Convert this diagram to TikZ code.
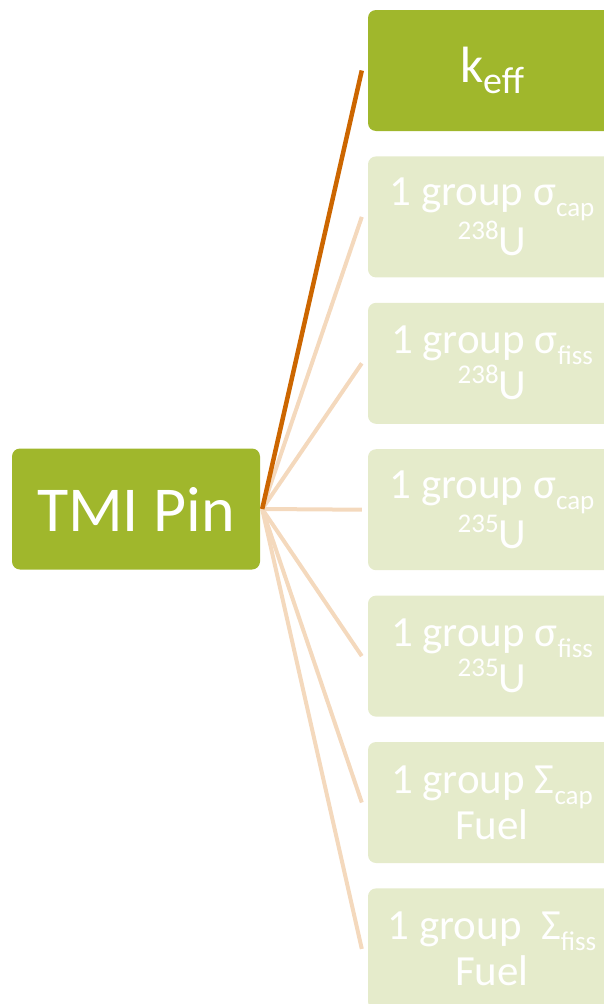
\documentclass[tikz,border=0pt]{standalone}
\usepackage{fontspec}
\setmainfont{Carlito}
\usetikzlibrary{positioning}
\definecolor{leafgreen}{HTML}{A0B72C}
\definecolor{palegreen}{HTML}{E5EBCB}
\definecolor{rust}{HTML}{CC6600}
\definecolor{peach}{HTML}{F4D9BD}
\newcommand\lo[2][27]{\raisebox{-11pt}{\fontsize{#1}{#1}\selectfont #2}}
\newcommand\hi[1]{\raisebox{16pt}{\fontsize{27}{27}\selectfont #1}}
\begin{document}
\begin{tikzpicture}[x=1pt,y=-1pt,line cap=butt,
	box/.style={rounded corners=8pt,minimum width=248pt,minimum height=121pt,
		inner sep=0pt,align=center,text=white},
	leaf/.style={box,fill=palegreen,font=\fontsize{43}{46}\selectfont},
	link/.style={peach,line width=4pt}]
	\useasboundingbox (0,0) rectangle (604,1004);
	\clip (0,0) rectangle (604,1004);
	\node[box,fill=leafgreen,font=\fontsize{64}{64}\selectfont] (root) at (136,509) {TMI Pin};
	\node[box,fill=leafgreen,font=\fontsize{51}{51}\selectfont] (keff) at (492,70.5) {k\lo[38]{eff}};
	\node[leaf,below=25pt of keff] (capu8) {1 group σ\lo{cap}\\\hi{238}U};
	\node[leaf,below=25pt of capu8] (fisu8) {1 group σ\lo{fiss}\\\hi{238}U};
	\node[leaf,below=25pt of fisu8] (capu5) {1 group σ\lo{cap}\\\hi{235}U};
	\node[leaf,below=25pt of capu5] (fisu5) {1 group σ\lo{fiss}\\\hi{235}U};
	\node[leaf,below=25pt of fisu5] (capfu) {1 group Σ\lo{cap}\\Fuel};
	\node[leaf,below=25pt of capfu] (fisfu) {1 group\ \ Σ\lo{fiss}\\Fuel};
	% connector ends, just short of the boxes
	\foreach \n in {keff,capu8,fisu8,capu5,fisu5,capfu,fisfu}
		\coordinate (\n-in) at ([xshift=-6pt]\n.west);
	\foreach \n in {capu8,fisu8,capu5,fisu5,capfu,fisfu}
		\draw[link] ([xshift=2pt]root.east) -- (\n-in);
	\draw[rust,line width=4.5pt] ([xshift=2pt]root.east) -- (keff-in);
\end{tikzpicture}
\end{document}
